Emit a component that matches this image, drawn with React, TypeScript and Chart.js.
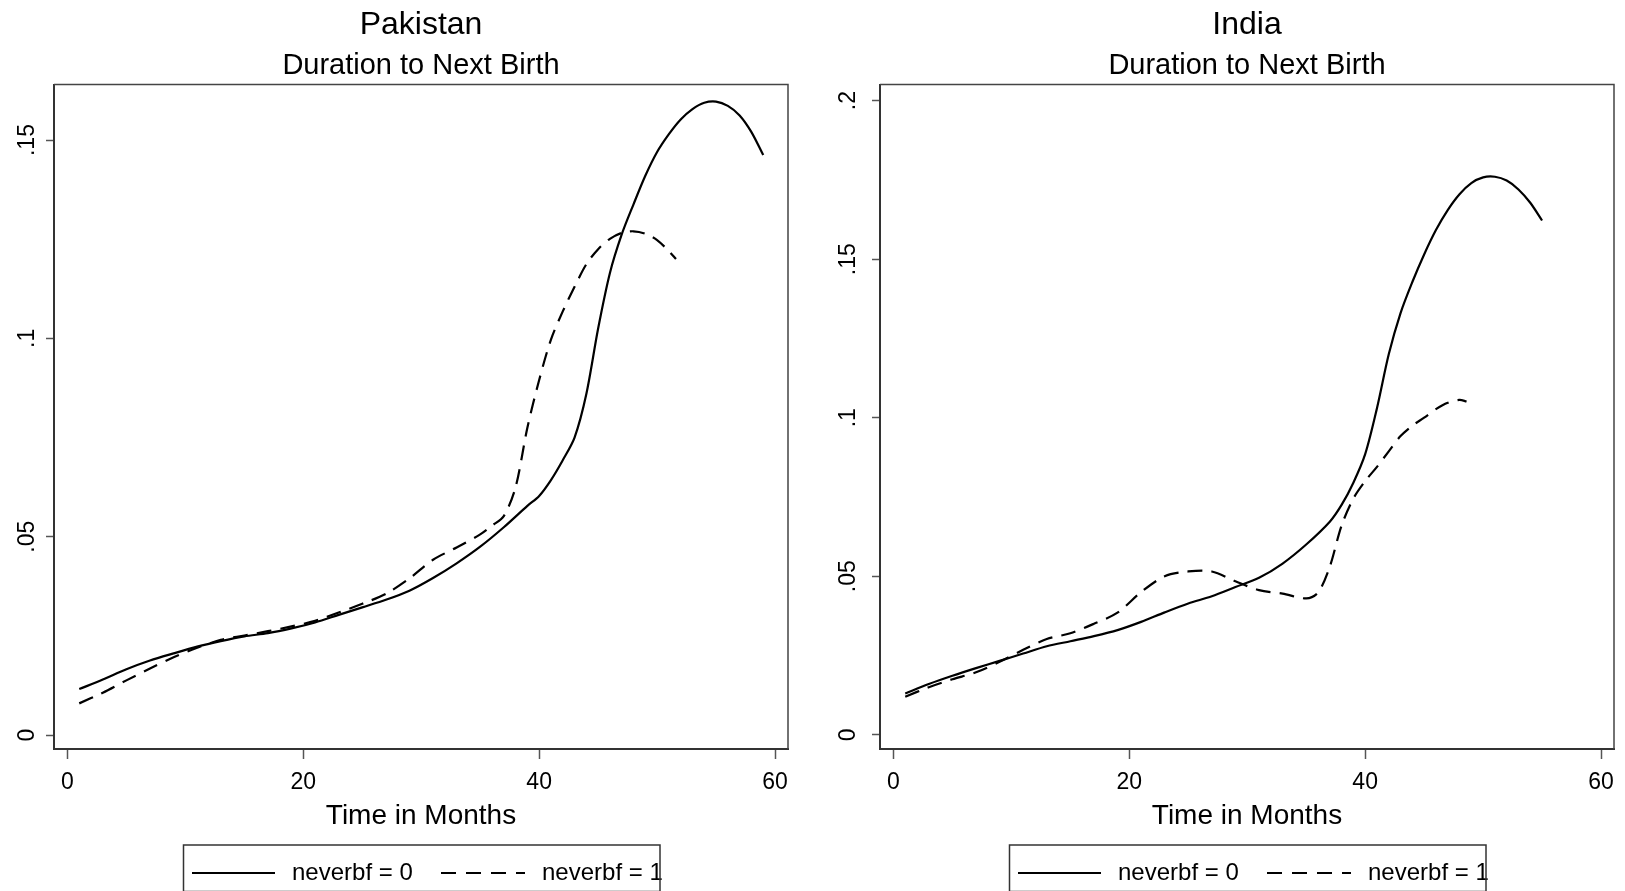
import React, { useEffect, useRef } from "react";
import { Chart, registerables } from "chart.js";

Chart.register(...registerables);

const FONT = '"Liberation Sans", Arial, Helvetica, sans-serif';

// ---------- data ----------
const seriesLabels = ["neverbf = 0", "neverbf = 1"];
const subtitleText = "Duration to Next Birth";
const xTitleText = "Time in Months";
const xTicks = [0, 20, 40, 60];

// Pakistan
const pakMonths0 = [1, 3, 5, 7, 9, 11, 13, 15, 17, 19, 21, 23, 25, 27, 29, 31, 33, 35, 37, 39, 40, 41, 42, 43, 44, 45, 46, 47, 48, 49, 50, 51, 52, 53, 54, 55, 56, 57, 58, 59];
const pakNeverbf0 = [0.0116, 0.014, 0.0166, 0.0188, 0.0206, 0.0223, 0.0237, 0.0249, 0.0257, 0.0269, 0.0284, 0.0303, 0.0322, 0.0341, 0.0364, 0.0396, 0.0433, 0.0475, 0.0524, 0.0578, 0.0603, 0.0643, 0.0693, 0.075, 0.086, 0.1025, 0.1165, 0.1262, 0.1338, 0.141, 0.147, 0.1515, 0.1552, 0.1578, 0.1594, 0.1597, 0.1586, 0.1562, 0.152, 0.1462];
const pakMonths1 = [1, 3, 5, 7, 9, 11, 13, 15, 17, 19, 21, 23, 25, 27, 29, 31, 33, 35, 36, 37, 38, 39, 40, 41, 42, 43, 44, 45, 46, 47, 48, 49, 50, 51, 51.6];
const pakNeverbf1 = [0.008, 0.0107, 0.0138, 0.0168, 0.0196, 0.022, 0.024, 0.0251, 0.0262, 0.0274, 0.0288, 0.0309, 0.0331, 0.0356, 0.0395, 0.0442, 0.0473, 0.0506, 0.0528, 0.0552, 0.0625, 0.0775, 0.0895, 0.0997, 0.1068, 0.113, 0.1187, 0.1225, 0.1251, 0.1266, 0.127, 0.1264, 0.1248, 0.122, 0.12];
const pakYTicks = [0, 0.05, 0.1, 0.15];
const pakYTickLabels = ["0", ".05", ".1", ".15"];

// India
const indMonths0 = [1, 3, 5, 7, 9, 11, 13, 15, 17, 19, 21, 23, 25, 27, 29, 31, 33, 35, 37, 38, 39, 40, 41, 42, 43, 44, 45, 46, 47, 48, 49, 50, 51, 52, 53, 54, 55];
const indNeverbf0 = [0.013, 0.016, 0.0186, 0.021, 0.0233, 0.0256, 0.0279, 0.0295, 0.0311, 0.033, 0.0356, 0.0386, 0.0414, 0.0437, 0.0466, 0.0495, 0.054, 0.06, 0.0672, 0.0725, 0.0795, 0.0885, 0.103, 0.12, 0.133, 0.1428, 0.1515, 0.1592, 0.1655, 0.1705, 0.174, 0.1758, 0.176, 0.1748, 0.172, 0.1678, 0.1622];
const indMonths1 = [1, 3, 5, 7, 9, 11, 13, 15, 17, 19, 21, 23, 25, 27, 29, 31, 33, 35, 36, 37, 38, 39, 40, 41, 42, 43, 44, 45, 46, 47, 48, 48.6];
const indNeverbf1 = [0.012, 0.015, 0.0175, 0.0197, 0.023, 0.0268, 0.0302, 0.032, 0.035, 0.0385, 0.045, 0.05, 0.0515, 0.0515, 0.0484, 0.0456, 0.0445, 0.043, 0.0448, 0.053, 0.066, 0.0745, 0.08, 0.0845, 0.0894, 0.0942, 0.0975, 0.1, 0.1027, 0.1047, 0.1056, 0.1051];
const indYTicks = [0, 0.05, 0.1, 0.15, 0.2];
const indYTickLabels = ["0", ".05", ".1", ".15", ".2"];

const toPoints = (xs: number[], ys: number[]) => xs.map((x, i) => ({ x, y: ys[i] }));

const frameLegendPlugin = {
  id: "frameLegend",
  afterDraw(chart: any) {
    const { ctx, chartArea: a } = chart;
    ctx.save();
    // top and right frame edges
    ctx.strokeStyle = "#444";
    ctx.lineWidth = 1.5;
    ctx.setLineDash([]);
    ctx.beginPath();
    ctx.moveTo(a.left, a.top);
    ctx.lineTo(a.right, a.top);
    ctx.lineTo(a.right, a.bottom);
    ctx.stroke();

    // legend
    const ds = chart.data.datasets;
    const cx = (a.left + a.right) / 2;
    const boxTop = a.bottom + 96;
    const ty = a.bottom + 124;
    ctx.font = `24px ${FONT}`;
    ctx.fillStyle = "#000";
    ctx.textBaseline = "middle";
    ctx.textAlign = "left";

    ctx.strokeStyle = "#000";
    ctx.lineWidth = 2.2;
    ctx.beginPath();
    ctx.moveTo(cx - 229, ty);
    ctx.lineTo(cx - 146, ty);
    ctx.stroke();
    ctx.fillText(ds[0].label, cx - 129, ty);

    ctx.setLineDash([15, 10]);
    ctx.beginPath();
    ctx.moveTo(cx + 20, ty);
    ctx.lineTo(cx + 104, ty);
    ctx.stroke();
    ctx.setLineDash([]);
    ctx.fillText(ds[1].label, cx + 121, ty);

    ctx.strokeStyle = "#333";
    ctx.lineWidth = 1.5;
    ctx.strokeRect(cx - 237.5, boxTop, 476.5, chart.height + 0.5 - boxTop);
    ctx.restore();
  },
};

type PanelProps = {
  title: string;
  months0: number[];
  vals0: number[];
  months1: number[];
  vals1: number[];
  yTicks: number[];
  yLabels: string[];
  yMin: number;
  yMax: number;
  width: number;
  yAxisWidth: number;
  yTickPad: number;
  padRight: number;
};

function Panel(p: PanelProps) {
  const ref = useRef<HTMLCanvasElement | null>(null);
  useEffect(() => {
    if (!ref.current) return;
    const chart = new Chart(ref.current, {
      type: "line",
      data: {
        datasets: [
          {
            label: seriesLabels[0],
            data: toPoints(p.months0, p.vals0),
            borderColor: "#000",
            borderWidth: 2.2,
            pointRadius: 0,
            tension: 0.3,
            fill: false,
          },
          {
            label: seriesLabels[1],
            data: toPoints(p.months1, p.vals1),
            borderColor: "#000",
            borderWidth: 2.2,
            borderDash: [15, 9],
            pointRadius: 0,
            tension: 0.3,
            fill: false,
          },
        ],
      },
      options: {
        animation: false,
        responsive: false,
        devicePixelRatio: 1,
        layout: { padding: { top: 0, right: p.padRight, bottom: 57.9, left: 0 } },
        plugins: {
          legend: { display: false },
          tooltip: { enabled: false },
          title: {
            display: true,
            text: p.title,
            fullSize: false,
            color: "#000",
            font: { family: FONT, size: 32, weight: "normal", lineHeight: 1 },
            padding: { top: 9, bottom: 0 },
          },
          subtitle: {
            display: true,
            text: subtitleText,
            fullSize: false,
            color: "#000",
            font: { family: FONT, size: 29, weight: "normal", lineHeight: 1 },
            padding: { top: 10, bottom: 4.5 },
          },
        },
        scales: {
          x: {
            type: "linear",
            min: -1.14,
            max: 61.1,
            afterBuildTicks: (s: any) => {
              s.ticks = xTicks.map((v) => ({ value: v }));
            },
            afterFit: (s: any) => {
              s.height = 84.1;
            },
            ticks: {
              autoSkip: false,
              maxRotation: 0,
              minRotation: 0,
              padding: 10,
              color: "#000",
              font: { family: FONT, size: 23 },
              callback: (v: any) => String(v),
            },
            grid: {
              drawOnChartArea: false,
              drawTicks: true,
              tickLength: 10,
              tickColor: "#555",
              tickWidth: 1.5,
            },
            border: { display: true, color: "#333", width: 2 },
            title: {
              display: true,
              text: xTitleText,
              color: "#000",
              font: { family: FONT, size: 28, lineHeight: 1.2 },
              padding: { top: 0, bottom: 0 },
            },
          },
          y: {
            type: "linear",
            min: p.yMin,
            max: p.yMax,
            afterBuildTicks: (s: any) => {
              s.ticks = p.yTicks.map((v) => ({ value: v }));
            },
            afterFit: (s: any) => {
              s.width = p.yAxisWidth;
            },
            ticks: {
              autoSkip: false,
              minRotation: 90,
              maxRotation: 90,
              crossAlign: "center",
              padding: p.yTickPad,
              color: "#000",
              font: { family: FONT, size: 23 },
              callback: (v: any) => {
                const i = p.yTicks.indexOf(Number(v));
                return i >= 0 ? p.yLabels[i] : "";
              },
            },
            grid: {
              drawOnChartArea: false,
              drawTicks: true,
              tickLength: 8,
              tickColor: "#555",
              tickWidth: 1.5,
            },
            border: { display: true, color: "#333", width: 2 },
          },
        },
      } as any,
      plugins: [frameLegendPlugin],
    });
    return () => chart.destroy();
  }, []);
  return (
    <canvas
      ref={ref}
      width={p.width}
      height={891}
      style={{ width: p.width, height: 891, display: "block" }}
    />
  );
}

export default function App() {
  return (
    <div
      style={{
        position: "fixed",
        left: 0,
        top: 0,
        width: 1625,
        height: 891,
        background: "#fff",
        display: "flex",
        overflow: "hidden",
      }}
    >
      <Panel
        title="Pakistan"
        months0={pakMonths0}
        vals0={pakNeverbf0}
        months1={pakMonths1}
        vals1={pakNeverbf1}
        yTicks={pakYTicks}
        yLabels={pakYTickLabels}
        yMin={-0.0035}
        yMax={0.164}
        width={812}
        yAxisWidth={54}
        yTickPad={2}
        padRight={24}
      />
      <Panel
        title="India"
        months0={indMonths0}
        vals0={indNeverbf0}
        months1={indMonths1}
        vals1={indNeverbf1}
        yTicks={indYTicks}
        yLabels={indYTickLabels}
        yMin={-0.0045}
        yMax={0.2051}
        width={813}
        yAxisWidth={68}
        yTickPad={7}
        padRight={11}
      />
    </div>
  );
}
